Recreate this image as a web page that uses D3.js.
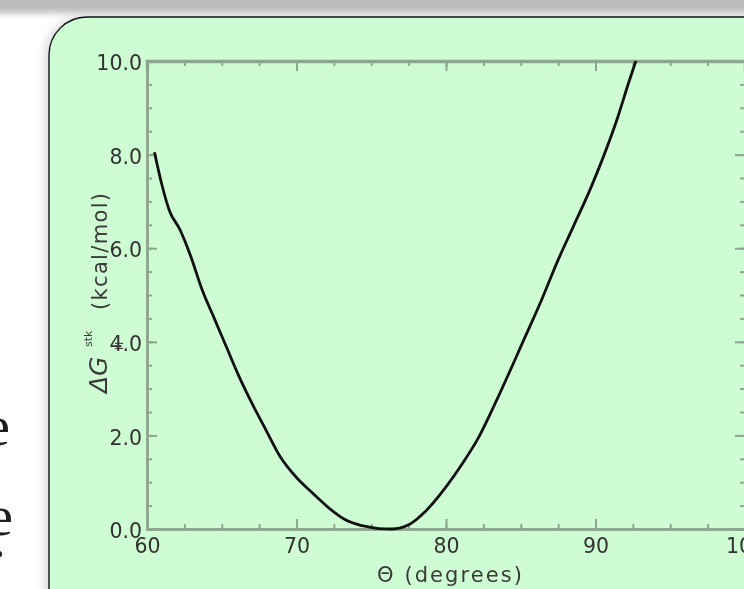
<!DOCTYPE html>
<html>
<head>
<meta charset="utf-8">
<script src="https://cdn.jsdelivr.net/npm/d3@7"></script>
<style>
  html, body { margin: 0; padding: 0; background: #fff; overflow: hidden; }
  svg { display: block; }
</style>
</head>
<body>
<svg id="chart" width="744" height="589"></svg>
<script>
// stacking free energy profile
const theta = [60.5, 61.0, 61.5, 62.2, 62.9, 63.7, 64.5, 65.3, 66.1, 67.0, 67.9, 68.9,
  70.0, 71.1, 72.2, 73.3, 74.4, 75.5, 76.4, 77.5, 78.6, 80.0, 81.1, 82.2, 83.5, 85.3,
  86.4, 87.5, 88.5, 89.7, 90.4, 91.5, 92.2, 92.7];
const dG = [8.05, 7.35, 6.8, 6.4, 5.85, 5.1, 4.5, 3.9, 3.3, 2.7, 2.15, 1.55,
  1.1, 0.76, 0.44, 0.19, 0.07, 0.01, 0.0, 0.09, 0.37, 0.9, 1.4, 1.97, 2.83, 4.11,
  4.9, 5.75, 6.45, 7.3, 7.85, 8.81, 9.52, 10.0];

const xMajor = [60, 70, 80, 90, 100];
const xMinor = d3.range(60, 100.01, 2.5);
const yMajor = [0, 2, 4, 6, 8, 10];
const yMinor = d3.range(0, 10.01, 0.5);

const svg = d3.select("#chart");
const defs = svg.append("defs");

defs.append("filter").attr("id", "soft")
  .attr("x", "-50%").attr("y", "-50%").attr("width", "200%").attr("height", "200%")
  .append("feGaussianBlur").attr("stdDeviation", 5);
defs.append("filter").attr("id", "barblur")
  .attr("x", "-10%").attr("y", "-50%").attr("width", "120%").attr("height", "200%")
  .append("feGaussianBlur").attr("stdDeviation", 3.5);
defs.append("filter").attr("id", "fuzz")
  .append("feGaussianBlur").attr("stdDeviation", 0.35);

// top bar of the slide window, soft edge
svg.append("rect")
  .attr("x", -20).attr("y", -30).attr("width", 800).attr("height", 43)
  .attr("fill", "#bababa").attr("filter", "url(#barblur)");

// left side slide text, mostly hidden
const serif = svg.append("g")
  .attr("font-family", "'Liberation Serif', 'DejaVu Serif', serif")
  .attr("font-size", 58).attr("fill", "#1e1e1e").attr("text-anchor", "end");
serif.append("text").attr("x", 10).attr("y", 445).text("e");
serif.append("text").attr("x", 13).attr("y", 535).text("e");
serif.append("text").attr("x", 6).attr("y", 557).text(".");

// green rounded panel with a soft shadow
svg.append("rect")
  .attr("x", 45).attr("y", 17).attr("width", 800).attr("height", 700).attr("rx", 38)
  .attr("fill", "#b0b0b0").attr("opacity", 0.5).attr("filter", "url(#soft)");
svg.append("rect")
  .attr("x", 49).attr("y", 17).attr("width", 800).attr("height", 700).attr("rx", 38)
  .attr("fill", "#cffdd3").attr("stroke", "#111").attr("stroke-width", 1.4);

const x = d3.scaleLinear().domain([60, 100]).range([147, 745]);
const y = d3.scaleLinear().domain([0, 10]).range([529, 61]);

const axisColor = "#8fa58f";
const tickFont = "'DejaVu Sans', Verdana, sans-serif";

function styleAxis(g, width) {
  g.select(".domain").attr("stroke", axisColor).attr("stroke-width", width);
  g.selectAll(".tick line").attr("stroke", axisColor).attr("stroke-width", 2);
  g.selectAll(".tick text").attr("fill", "#333")
    .attr("font-family", tickFont).attr("font-size", 20.5)
    .attr("filter", "url(#fuzz)");
}

// minor ticks, no labels
const minorAxes = [
  [d3.axisBottom(x).tickValues(xMinor), `translate(0,${y(0)})`],
  [d3.axisTop(x).tickValues(xMinor), `translate(0,${y(10)})`],
  [d3.axisLeft(y).tickValues(yMinor), `translate(${x(60)},0)`],
  [d3.axisRight(y).tickValues(yMinor), `translate(${x(100)},0)`]
];
minorAxes.forEach(([ax, tr]) => {
  svg.append("g").attr("transform", tr)
    .call(ax.tickSize(-5).tickFormat(""))
    .call(g => styleAxis(g, 2.5));
});

// major ticks
svg.append("g").attr("transform", `translate(0,${y(0)})`)
  .call(d3.axisBottom(x).tickValues(xMajor).tickSize(-10).tickPadding(9).tickFormat(d3.format("d")))
  .call(g => styleAxis(g, 2.5));
svg.append("g").attr("transform", `translate(0,${y(10)})`)
  .call(d3.axisTop(x).tickValues(xMajor).tickSize(-10).tickFormat(""))
  .call(g => styleAxis(g, 3.5));
svg.append("g").attr("transform", `translate(${x(60)},0)`)
  .call(d3.axisLeft(y).tickValues(yMajor).tickSize(-10).tickPadding(5).tickFormat(d3.format(".1f")))
  .call(g => styleAxis(g, 2.5))
  .call(g => g.selectAll(".tick text").attr("dy", "0.42em"));
svg.append("g").attr("transform", `translate(${x(100)},0)`)
  .call(d3.axisRight(y).tickValues(yMajor).tickSize(-10).tickFormat(""))
  .call(g => styleAxis(g, 2.5));

// the curve
const line = d3.line()
  .x((d, i) => x(theta[i]))
  .y(d => y(d))
  .curve(d3.curveMonotoneX);
svg.append("path")
  .datum(dG)
  .attr("d", line)
  .attr("fill", "none")
  .attr("stroke", "#111")
  .attr("stroke-width", 2.8)
  .attr("stroke-linejoin", "round");

// axis titles
svg.append("text")
  .attr("x", 377).attr("y", 582)
  .attr("textLength", 145).attr("lengthAdjust", "spacing")
  .attr("font-family", tickFont).attr("font-size", 21).attr("fill", "#3a3a3a")
  .attr("filter", "url(#fuzz)")
  .text("\u0398 (degrees)");

const yt = svg.append("g")
  .attr("transform", "translate(107,393) rotate(-90)")
  .attr("font-family", tickFont).attr("fill", "#3a3a3a")
  .attr("filter", "url(#fuzz)");
yt.append("text").attr("x", 0).attr("y", 0)
  .attr("font-size", 25).attr("font-style", "italic")
  .text("\u0394G");
yt.append("text").attr("x", 46).attr("y", -15)
  .attr("font-size", 11).text("stk");
yt.append("text").attr("x", 43).attr("y", 16)
  .attr("font-size", 11).text("H");
yt.append("text").attr("x", 83).attr("y", 0)
  .attr("font-size", 21)
  .attr("textLength", 117).attr("lengthAdjust", "spacing")
  .text("(kcal/mol)");
</script>
</body>
</html>
